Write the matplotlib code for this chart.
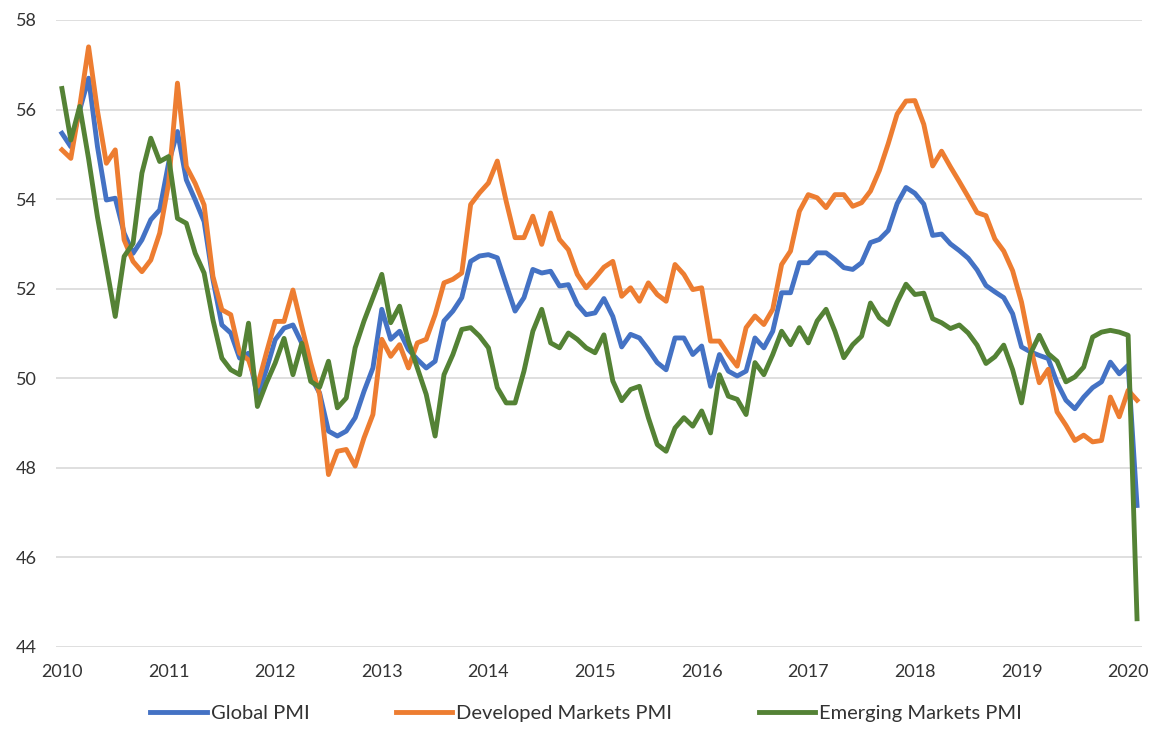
import numpy as np
import matplotlib
matplotlib.use("Agg")
import matplotlib.pyplot as plt

# monthly readings, Jan 2010 .. Feb 2020
global_pmi = [
    55.47, 55.17, 55.99, 56.70, 55.17, 53.98, 54.02, 53.24, 52.79, 53.09, 53.54, 53.76,
    54.80, 55.51, 54.43, 53.98, 53.50, 52.20, 51.19, 51.01, 50.45, 50.56, 49.59, 50.19,
    50.86, 51.12, 51.19, 50.78, 50.04, 49.67, 48.82, 48.71, 48.82, 49.12, 49.71, 50.23,
    51.54, 50.87, 51.05, 50.64, 50.42, 50.23, 50.38, 51.28, 51.50, 51.80, 52.61, 52.73,
    52.76, 52.69, 52.09, 51.50, 51.80, 52.43, 52.35, 52.39, 52.06, 52.09, 51.65, 51.42,
    51.46, 51.78, 51.38, 50.70, 50.98, 50.90, 50.64, 50.35, 50.19, 50.90, 50.90, 50.53,
    50.72, 49.82, 50.53, 50.16, 50.05, 50.16, 50.90, 50.68, 51.05, 51.91, 51.91, 52.58,
    52.58, 52.80, 52.80, 52.65, 52.47, 52.43, 52.58, 53.03, 53.10, 53.30, 53.90, 54.26,
    54.13, 53.89, 53.19, 53.22, 53.00, 52.85, 52.68, 52.42, 52.07, 51.93, 51.80, 51.44,
    50.70, 50.59, 50.51, 50.44, 49.90, 49.51, 49.32, 49.58, 49.79, 49.92, 50.36, 50.10,
    50.29, 47.16,
]
developed_pmi = [
    55.10, 54.91, 56.07, 57.40, 55.97, 54.80, 55.10, 53.09, 52.61, 52.38, 52.64, 53.24,
    54.35, 56.59, 54.73, 54.35, 53.87, 52.27, 51.53, 51.42, 50.56, 50.41, 49.82, 50.56,
    51.27, 51.27, 51.97, 51.15, 50.34, 49.64, 47.85, 48.37, 48.41, 48.04, 48.67, 49.19,
    50.87, 50.49, 50.75, 50.23, 50.79, 50.87, 51.42, 52.13, 52.21, 52.35, 53.88, 54.14,
    54.36, 54.85, 53.95, 53.14, 53.14, 53.62, 52.99, 53.69, 53.10, 52.87, 52.32, 52.02,
    52.24, 52.48, 52.61, 51.83, 52.02, 51.72, 52.13, 51.87, 51.72, 52.54, 52.32, 51.98,
    52.02, 50.83, 50.83, 50.53, 50.27, 51.13, 51.39, 51.20, 51.54, 52.54, 52.84, 53.73,
    54.10, 54.03, 53.81, 54.10, 54.10, 53.84, 53.92, 54.18, 54.64, 55.24, 55.90, 56.19,
    56.20, 55.67, 54.74, 55.07, 54.72, 54.39, 54.05, 53.70, 53.63, 53.11, 52.84, 52.40,
    51.70, 50.70, 49.90, 50.20, 49.25, 48.95, 48.61, 48.73, 48.58, 48.61, 49.58, 49.14,
    49.73, 49.51,
]
emerging_pmi = [
    56.47, 55.32, 56.07, 54.90, 53.60, 52.50, 51.38, 52.72, 53.01, 54.58, 55.36, 54.84,
    54.95, 53.57, 53.46, 52.79, 52.35, 51.30, 50.45, 50.19, 50.08, 51.23, 49.37, 49.89,
    50.34, 50.89, 50.08, 50.78, 49.93, 49.80, 50.38, 49.34, 49.56, 50.68, 51.28, 51.80,
    52.32, 51.24, 51.61, 50.83, 50.23, 49.64, 48.71, 50.08, 50.53, 51.09, 51.13, 50.94,
    50.68, 49.79, 49.45, 49.45, 50.16, 51.05, 51.54, 50.79, 50.68, 51.01, 50.87, 50.68,
    50.57, 50.97, 49.94, 49.50, 49.75, 49.82, 49.12, 48.52, 48.37, 48.89, 49.12, 48.93,
    49.27, 48.78, 50.08, 49.60, 49.53, 49.19, 50.35, 50.08, 50.53, 51.05, 50.75, 51.13,
    50.79, 51.28, 51.54, 51.05, 50.46, 50.75, 50.94, 51.68, 51.35, 51.20, 51.70, 52.10,
    51.87, 51.90, 51.33, 51.24, 51.11, 51.19, 51.01, 50.74, 50.33, 50.48, 50.74, 50.19,
    49.45, 50.55, 50.96, 50.55, 50.38, 49.92, 50.03, 50.25, 50.92, 51.03, 51.07, 51.03,
    50.96, 44.63,
]
series_names = ["Global PMI", "Developed Markets PMI", "Emerging Markets PMI"]
colors = ["#4472C4", "#ED7D31", "#548235"]
year_ticks = list(range(2010, 2021))
y_ticks = list(range(44, 59, 2))

plt.rcParams["font.family"] = ["Lato", "DejaVu Sans"]

t = 2010 + np.arange(len(global_pmi)) / 12.0

fig = plt.figure(figsize=(11.54, 7.4), dpi=100)
ax = fig.add_axes([0.0485, 0.1257, 0.9411, 0.8473])

for vals, name, c in zip([global_pmi, developed_pmi, emerging_pmi], series_names, colors):
    ax.plot(t, vals, color=c, lw=3.5, label=name, solid_joinstyle="round")

ax.set_ylim(44, 58)
ax.set_xlim(2010 - 0.056, 2020.13)
ax.set_yticks(y_ticks)
ax.set_xticks(year_ticks)
ax.set_xticklabels([str(y) for y in year_ticks])
ax.grid(axis="y", color="#D9D9D9", lw=1.2)
ax.set_axisbelow(True)
for s in ax.spines.values():
    s.set_visible(False)
ax.tick_params(length=0, labelsize=13, colors="#333333")
ax.tick_params(axis="x", pad=12)
ax.tick_params(axis="y", pad=14)

fig.legend(loc="lower center", bbox_to_anchor=(0.508, 0.0), ncol=3, frameon=False,
           fontsize=14.5, handlelength=2.8, columnspacing=4.3, handletextpad=0.2,
           labelcolor="#333333")

fig.savefig("out.png", dpi=100)
